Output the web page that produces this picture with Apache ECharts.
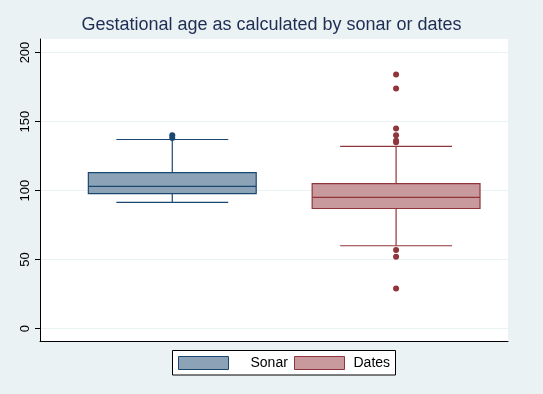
<!DOCTYPE html>
<html><head><meta charset="utf-8">
<script src="https://cdn.jsdelivr.net/npm/echarts@6/dist/echarts.min.js"></script>
<style>html,body{margin:0;padding:0;background:#eaf2f3;}#c{width:543px;height:394px;}</style>
</head><body><div id="c"></div>
<script>
var categories = ['Sonar', 'Dates'];
var categoryPos = [1, 2];
// [lower whisker, Q1, median, Q3, upper whisker]
var sonarStats = [91.5, 97.8, 103, 113, 137];
var datesStats = [60, 87, 95, 105, 132];
var sonarOutliers = [140, 138];
var datesOutliers = [184, 174, 145, 140, 136, 135, 57, 52, 29];
var yTicks = [0, 50, 100, 150, 200];

var colors = {
  Sonar: {line: '#1a476f', fill: '#8ca3b7'},
  Dates: {line: '#90353b', fill: '#c89a9d'}
};

function boxRender(params, api) {
  var x = api.value(0);
  var lo = api.coord([x, api.value(1)]);
  var q1 = api.coord([x, api.value(2)]);
  var md = api.coord([x, api.value(3)]);
  var q3 = api.coord([x, api.value(4)]);
  var hi = api.coord([x, api.value(5)]);
  var bw = api.size([0.75, 0])[0];
  var cw = api.size([0.5, 0])[0];
  var c = colors[params.seriesName];
  var ls = {stroke: c.line, lineWidth: 1.2, fill: null};
  return {
    type: 'group',
    children: [
      {type: 'line', shape: {x1: lo[0], y1: lo[1], x2: q1[0], y2: q1[1]}, style: ls},
      {type: 'line', shape: {x1: q3[0], y1: q3[1], x2: hi[0], y2: hi[1]}, style: ls},
      {type: 'line', shape: {x1: lo[0] - cw / 2, y1: lo[1], x2: lo[0] + cw / 2, y2: lo[1]}, style: ls},
      {type: 'line', shape: {x1: hi[0] - cw / 2, y1: hi[1], x2: hi[0] + cw / 2, y2: hi[1]}, style: ls},
      {type: 'rect', shape: {x: q3[0] - bw / 2, y: q3[1], width: bw, height: q1[1] - q3[1]},
        style: {fill: c.fill, stroke: c.line, lineWidth: 1.2}},
      {type: 'line', shape: {x1: md[0] - bw / 2, y1: md[1], x2: md[0] + bw / 2, y2: md[1]}, style: ls}
    ]
  };
}

function outlierData(pos, arr) { return arr.map(function (v) { return [pos, v]; }); }

var chart = echarts.init(document.getElementById('c'));
chart.setOption({
  backgroundColor: '#eaf2f3',
  animation: false,
  title: {
    text: 'Gestational age as calculated by sonar or dates',
    left: 'center', top: 11,
    textStyle: {fontFamily: 'Liberation Sans', fontSize: 18, fontWeight: 'normal', color: '#1e2d53'}
  },
  grid: {left: 40, right: 35, top: 39, height: 302, show: true, backgroundColor: '#ffffff', borderWidth: 0, containLabel: false},
  xAxis: {
    type: 'value', min: 0.409, max: 2.5,
    axisLine: {show: true, onZero: false, lineStyle: {color: '#000', width: 1}},
    axisTick: {show: false}, axisLabel: {show: false}, splitLine: {show: false}
  },
  yAxis: {
    type: 'value', min: -9, max: 209.8,
    axisLine: {show: true, onZero: false, lineStyle: {color: '#000', width: 1}},
    axisTick: {show: true, length: 5, customValues: yTicks, lineStyle: {color: '#000'}},
    axisLabel: {customValues: yTicks, rotate: 90, margin: 8, fontFamily: 'Liberation Sans', fontSize: 13, color: '#000'},
    splitLine: {show: true, lineStyle: {color: '#eaf2f3', width: 1}}
  },
  legend: [
    {left: 178, top: 356, padding: 0, itemWidth: 50, itemHeight: 13,
      data: [{name: 'Sonar', icon: 'rect', itemStyle: {color: colors.Sonar.fill, borderColor: colors.Sonar.line, borderWidth: 1}}],
      textStyle: {fontFamily: 'Liberation Sans', fontSize: 14, color: '#000', padding: [0, 0, 0, 17]}},
    {left: 294, top: 356, padding: 0, itemWidth: 50, itemHeight: 13,
      data: [{name: 'Dates', icon: 'rect', itemStyle: {color: colors.Dates.fill, borderColor: colors.Dates.line, borderWidth: 1}}],
      textStyle: {fontFamily: 'Liberation Sans', fontSize: 14, color: '#000', padding: [0, 0, 0, 4]}}
  ],
  graphic: [{type: 'rect', shape: {x: 172.5, y: 350.5, width: 223, height: 24.5}, style: {fill: '#fff', stroke: '#000', lineWidth: 1}, z: 0}],
  series: [
    {name: 'Sonar', type: 'custom', renderItem: boxRender, itemStyle: {color: colors.Sonar.fill, borderColor: colors.Sonar.line},
      data: [[categoryPos[0]].concat(sonarStats)], z: 3},
    {name: 'Dates', type: 'custom', renderItem: boxRender, itemStyle: {color: colors.Dates.fill, borderColor: colors.Dates.line},
      data: [[categoryPos[1]].concat(datesStats)], z: 3},
    {name: 'Sonar outliers', type: 'scatter', symbol: 'circle', symbolSize: 6, itemStyle: {color: colors.Sonar.line, opacity: 1},
      data: outlierData(categoryPos[0], sonarOutliers), z: 4},
    {name: 'Dates outliers', type: 'scatter', symbol: 'circle', symbolSize: 6, itemStyle: {color: colors.Dates.line, opacity: 1},
      data: outlierData(categoryPos[1], datesOutliers), z: 4}
  ]
});
</script></body></html>
